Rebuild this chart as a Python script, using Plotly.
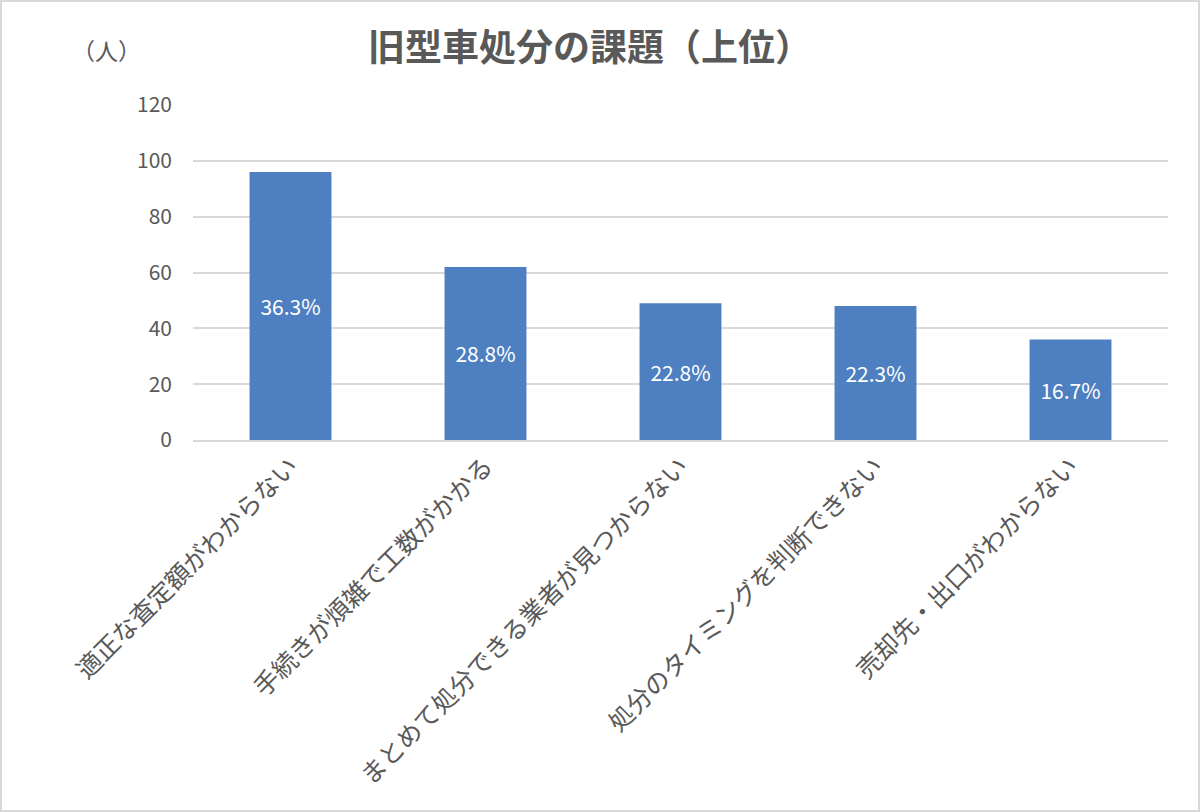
import plotly.graph_objects as go

categories = ["適正な査定額がわからない", "手続きが煩雑で工数がかかる", "まとめて処分できる業者が見つからない",
              "処分のタイミングを判断できない", "売却先・出口がわからない"]
counts = [96, 62, 49, 48, 36]
pct_labels = ["36.3%", "28.8%", "22.8%", "22.3%", "16.7%"]
y_ticks = [0, 20, 40, 60, 80, 100, 120]

W, H = 1200, 812
ml, mr, mt, mb = 193, 32, 105, 372
pw, ph = W - ml - mr, H - mt - mb

fig = go.Figure(go.Bar(
    x=categories, y=counts, text=pct_labels,
    textposition="inside", insidetextanchor="middle", textangle=0,
    textfont=dict(color="white", size=21, family="Liberation Sans Narrow, Noto Sans CJK JP"),
    marker=dict(color="#4e7fc0", line=dict(width=0)),
    cliponaxis=False,
))

fig.update_layout(
    width=W, height=H,
    margin=dict(l=ml, r=mr, t=mt, b=mb, autoexpand=False),
    paper_bgcolor="white", plot_bgcolor="white",
    bargap=0.58,
    showlegend=False,
    font=dict(family="Noto Sans CJK JP", color="#595959"),
    title=dict(text="<b>旧型車処分の課題（上位）</b>", x=590 / W, xanchor="center",
               y=1 - 48 / H, yanchor="middle",
               font=dict(size=37, color="#595959", family="Noto Sans CJK JP")),
    xaxis=dict(tickangle=-45, tickfont=dict(size=25, color="#595959", family="Noto Sans CJK JP"),
               showline=True, linecolor="#d9d9d9", linewidth=1.5, ticks="", showgrid=False),
    yaxis=dict(range=[0, 120], tickvals=y_ticks, showgrid=True, gridcolor="#d9d9d9", gridwidth=1.5,
               zeroline=False, showline=False, ticks="", ticklen=0,
               tickfont=dict(size=21, color="#595959", family="Liberation Sans Narrow, Noto Sans CJK JP")),
)
fig.update_yaxes(ticklabelstandoff=20)

fig.add_annotation(text="（人）", xref="paper", yref="paper",
                   x=(106 - ml) / pw, y=1 + (mt - 50) / ph, xanchor="center", yanchor="middle",
                   showarrow=False, font=dict(size=23, color="#595959", family="Noto Sans CJK JP"))

fig.add_shape(type="rect", xref="paper", yref="paper",
              x0=-ml / pw, x1=1 + mr / pw, y0=-mb / ph, y1=1 + mt / ph,
              line=dict(color="#d9d9d9", width=4), layer="above")

fig.write_html("out.html", config={"displayModeBar": False},
               post_script="document.body.style.margin='0';")
